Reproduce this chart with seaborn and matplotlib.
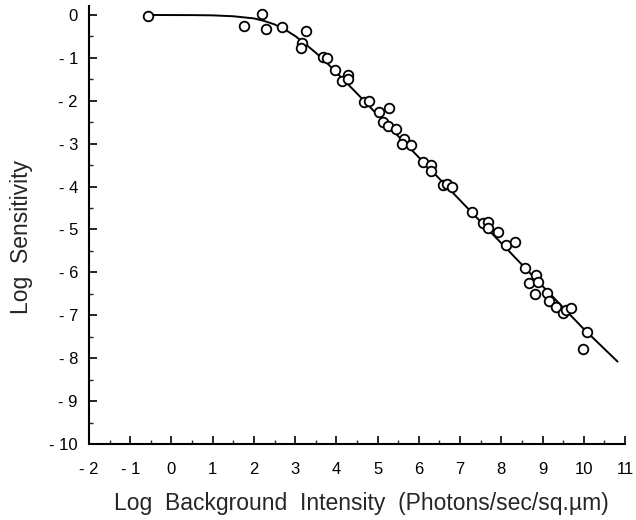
import matplotlib
matplotlib.use("Agg")
import matplotlib.pyplot as plt
import seaborn as sns
import pandas as pd
from matplotlib.ticker import MultipleLocator

# Data
obs_x = [-0.58, 1.77, 2.19, 2.29, 2.69, 3.26, 3.17, 3.13,
         3.67, 3.78, 3.97, 4.29, 4.13, 4.29, 4.68, 4.79, 5.04, 5.28,
         5.14, 5.24, 5.44, 5.65, 5.59, 5.81, 6.11, 6.29, 6.29, 6.59,
         6.68, 6.80, 7.30, 7.55, 7.67, 7.67, 7.91, 8.11, 8.32, 8.57,
         8.83, 8.66, 8.89, 8.82, 9.11, 9.16, 9.33, 9.49, 9.56, 9.70,
         10.07, 9.97]
obs_y = [-0.02, -0.25, 0.02, -0.33, -0.29, -0.37, -0.65, -0.78,
         -0.99, -1.01, -1.29, -1.39, -1.55, -1.50, -2.02, -2.00, -2.25, -2.17,
         -2.49, -2.59, -2.66, -2.90, -3.01, -3.02, -3.43, -3.49, -3.63, -3.96,
         -3.94, -4.00, -4.59, -4.84, -4.83, -4.96, -5.07, -5.36, -5.30, -5.90,
         -6.06, -6.24, -6.22, -6.51, -6.49, -6.67, -6.80, -6.94, -6.88, -6.84,
         -7.40, -7.78]

curve_x = [-0.5, 0.0, 0.5, 1.0, 1.5, 2.0, 2.25, 2.5, 2.75, 3.0, 3.25, 3.5,
           3.75, 4.0, 4.5, 5.0, 6.0, 7.0, 8.0, 9.0, 10.0, 10.82]
curve_y = [0.0, -0.002, -0.003, -0.009, -0.03, -0.08, -0.14, -0.22, -0.34,
           -0.49, -0.68, -0.88, -1.10, -1.34, -1.83, -2.33, -3.32, -4.32,
           -5.32, -6.32, -7.32, -8.08]

x_ticks = list(range(-2, 12))
y_ticks = list(range(-10, 1))


def fmt(v):
    return "- " + str(-v) if v < 0 else str(v)


sns.set_style("ticks")
plt.rcParams['font.family'] = ['Liberation Sans', 'DejaVu Sans']

fig = plt.figure(figsize=(6.36, 5.2), dpi=100)
ax = fig.add_axes([0.140, 0.1462, 0.8427, 0.8415])

curve = pd.DataFrame({"x": curve_x, "y": curve_y})
obs = pd.DataFrame({"x": obs_x, "y": obs_y})

sns.lineplot(data=curve, x="x", y="y", ax=ax, color="black", linewidth=1.4,
             sort=False, zorder=2)
sns.scatterplot(data=obs, x="x", y="y", ax=ax, s=48, facecolor="white",
                edgecolor="black", linewidth=1.3, zorder=3, clip_on=False)

ax.set_xlim(-2, 11)
ax.set_ylim(-10, 0.2)
ax.set_xticks(x_ticks)
ax.set_yticks(y_ticks)
ax.set_xticklabels([fmt(v) for v in x_ticks])
ax.set_yticklabels([fmt(v) for v in y_ticks])
ax.xaxis.set_minor_locator(MultipleLocator(0.5))
ax.yaxis.set_minor_locator(MultipleLocator(0.5))
ax.tick_params(which="major", direction="in", length=6, width=1.2,
               labelsize=12, colors="black")
ax.tick_params(axis="x", which="major", pad=13)
ax.tick_params(axis="y", which="major", pad=8)
ax.tick_params(which="minor", direction="in", length=3, width=1.0)

for s in ["top", "right"]:
    ax.spines[s].set_visible(False)
for s in ["left", "bottom"]:
    ax.spines[s].set_linewidth(1.5)
    ax.spines[s].set_color("black")

ax.set_xlabel("Log  Background  Intensity  (Photons/sec/sq.\u00b5m)",
              fontsize=16.5)
ax.set_ylabel("Log  Sensitivity", fontsize=16.5)
ax.xaxis.set_label_coords(0.508, -0.11)
ax.yaxis.set_label_coords(-0.105, 0.473)

fig.savefig("out.png", dpi=100, facecolor="white")
